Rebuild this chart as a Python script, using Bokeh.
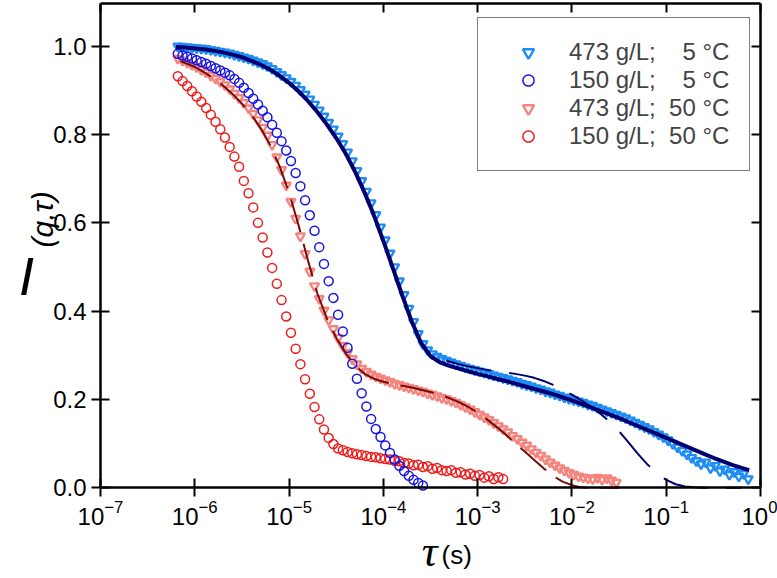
from math import pi
from bokeh.plotting import figure
from bokeh.models import (ColumnDataSource, Range1d, LogAxis, LinearAxis, FixedTicker,
                          PrintfTickFormatter, Label, Legend, LegendItem)
from bokeh.embed import file_html
from bokeh.resources import INLINE

# ---------------- data ----------------
# shared correlator lag grid, log10(tau / s)
log_tau = [
    -6.18, -6.13, -6.08, -6.03, -5.98, -5.93, -5.88, -5.83, -5.78, -5.73,
    -5.68, -5.63, -5.58, -5.53, -5.48, -5.43, -5.38, -5.33, -5.28, -5.23,
    -5.18, -5.13, -5.08, -5.03, -4.98, -4.93, -4.88, -4.83, -4.78, -4.73,
    -4.68, -4.63, -4.58, -4.53, -4.48, -4.43, -4.38, -4.33, -4.28, -4.23,
    -4.18, -4.13, -4.08, -4.03, -3.98, -3.93, -3.88, -3.83, -3.78, -3.73,
    -3.68, -3.63, -3.58, -3.53, -3.48, -3.43, -3.38, -3.33, -3.28, -3.23,
    -3.18, -3.13, -3.08, -3.03, -2.98, -2.93, -2.88, -2.83, -2.78, -2.73,
    -2.68, -2.63, -2.58, -2.53, -2.48, -2.43, -2.38, -2.33, -2.28, -2.23,
    -2.18, -2.13, -2.08, -2.03, -1.98, -1.93, -1.88, -1.83, -1.78, -1.73,
    -1.68, -1.63, -1.58, -1.53, -1.48, -1.43, -1.38, -1.33, -1.28, -1.23,
    -1.18, -1.13, -1.08, -1.03, -0.98, -0.93, -0.88, -0.83, -0.78, -0.73,
    -0.68, -0.63, -0.58, -0.53, -0.48, -0.43, -0.38, -0.33, -0.28, -0.23,
    -0.18, -0.13,
]

# 473 g/L, 5 C  (light blue triangles)
I_473_5C = [
    1.000, 0.999, 0.998, 0.997, 0.996, 0.995, 0.994, 0.992, 0.990, 0.988,
    0.986, 0.984, 0.981, 0.978, 0.975, 0.972, 0.968, 0.964, 0.960, 0.955,
    0.949, 0.942, 0.935, 0.928, 0.920, 0.911, 0.901, 0.891, 0.880, 0.868,
    0.855, 0.841, 0.827, 0.812, 0.796, 0.779, 0.760, 0.740, 0.718, 0.695,
    0.671, 0.645, 0.618, 0.590, 0.561, 0.531, 0.500, 0.468, 0.437, 0.406,
    0.376, 0.349, 0.326, 0.312, 0.303, 0.297, 0.292, 0.288, 0.284, 0.280,
    0.277, 0.273, 0.270, 0.267, 0.264, 0.261, 0.258, 0.255, 0.252, 0.249,
    0.246, 0.243, 0.240, 0.236, 0.233, 0.230, 0.226, 0.223, 0.219, 0.216,
    0.212, 0.209, 0.205, 0.202, 0.199, 0.196, 0.193, 0.189, 0.186, 0.182,
    0.178, 0.174, 0.170, 0.166, 0.162, 0.158, 0.153, 0.148, 0.143, 0.138,
    0.133, 0.127, 0.121, 0.115, 0.108, 0.100, 0.092, 0.084, 0.076, 0.068,
    0.061, 0.054, 0.058, 0.045, 0.050, 0.038, 0.042, 0.030, 0.036, 0.026,
    0.032, 0.020,
]

# 150 g/L, 5 C  (blue circles)
I_150_5C = [
    0.983, 0.979, 0.976, 0.972, 0.968, 0.964, 0.960, 0.955, 0.950, 0.945,
    0.940, 0.934, 0.926, 0.917, 0.906, 0.894, 0.881, 0.868, 0.854, 0.839,
    0.822, 0.804, 0.785, 0.764, 0.740, 0.713, 0.683, 0.651, 0.617, 0.582,
    0.545, 0.507, 0.468, 0.430, 0.392, 0.354, 0.317, 0.281, 0.247, 0.214,
    0.184, 0.156, 0.133, 0.115, 0.096, 0.079, 0.064, 0.050, 0.038, 0.027,
    0.018, 0.011, 0.005,
]

# 473 g/L, 50 C  (salmon triangles)
I_473_50C = [
    0.972, 0.968, 0.963, 0.958, 0.953, 0.947, 0.941, 0.934, 0.927, 0.920,
    0.912, 0.903, 0.893, 0.883, 0.872, 0.860, 0.847, 0.833, 0.816, 0.798,
    0.777, 0.749, 0.720, 0.685, 0.648, 0.610, 0.570, 0.530, 0.490, 0.457,
    0.428, 0.402, 0.380, 0.360, 0.340, 0.322, 0.306, 0.292, 0.280, 0.270,
    0.263, 0.257, 0.252, 0.248, 0.244, 0.240, 0.236, 0.233, 0.230, 0.227,
    0.224, 0.221, 0.218, 0.214, 0.211, 0.208, 0.204, 0.201, 0.197, 0.193,
    0.188, 0.183, 0.178, 0.172, 0.166, 0.160, 0.154, 0.147, 0.140, 0.133,
    0.126, 0.118, 0.111, 0.103, 0.096, 0.088, 0.080, 0.073, 0.065, 0.058,
    0.051, 0.045, 0.039, 0.034, 0.030, 0.026, 0.024, 0.022, 0.020, 0.023,
    0.019, 0.022, 0.017, 0.012,
]

# 150 g/L, 50 C  (red circles)
I_150_50C = [
    0.932, 0.921, 0.910, 0.898, 0.886, 0.874, 0.860, 0.845, 0.829, 0.812,
    0.793, 0.772, 0.750, 0.727, 0.695, 0.667, 0.635, 0.600, 0.567, 0.533,
    0.498, 0.462, 0.425, 0.388, 0.351, 0.315, 0.280, 0.246, 0.213, 0.183,
    0.155, 0.132, 0.113, 0.099, 0.089, 0.085, 0.081, 0.078, 0.076, 0.074,
    0.072, 0.070, 0.069, 0.067, 0.065, 0.064, 0.061, 0.060, 0.056, 0.055,
    0.051, 0.052, 0.047, 0.049, 0.043, 0.045, 0.040, 0.038, 0.040, 0.034,
    0.035, 0.030, 0.032, 0.027, 0.029, 0.023, 0.026, 0.020, 0.024, 0.020,
]

# fit curves, log10(tau / s)
fit_log_tau = [
    -6.2, -6.1, -6.0, -5.9, -5.8, -5.7, -5.6, -5.5, -5.4, -5.3,
    -5.2, -5.1, -5.0, -4.9, -4.8, -4.7, -4.6, -4.5, -4.4, -4.3,
    -4.2, -4.1, -4.0, -3.9, -3.8, -3.7, -3.6, -3.5, -3.4, -3.3,
    -3.2, -3.1, -3.0, -2.9, -2.8, -2.7, -2.6, -2.5, -2.4, -2.3,
    -2.2, -2.1, -2.0, -1.9, -1.8, -1.7, -1.6, -1.5, -1.4, -1.3,
    -1.2, -1.1, -1.0, -0.9, -0.8, -0.7, -0.6, -0.5, -0.4, -0.3,
    -0.2, -0.12,
]
fit_473_5C_solid = [
    0.998, 0.997, 0.995, 0.993, 0.990, 0.986, 0.981, 0.975, 0.967, 0.958,
    0.947, 0.933, 0.917, 0.898, 0.876, 0.851, 0.823, 0.792, 0.757, 0.716,
    0.669, 0.617, 0.559, 0.498, 0.436, 0.377, 0.328, 0.298, 0.284, 0.276,
    0.270, 0.264, 0.258, 0.253, 0.247, 0.242, 0.236, 0.230, 0.224, 0.218,
    0.212, 0.205, 0.198, 0.190, 0.182, 0.174, 0.166, 0.158, 0.149, 0.140,
    0.131, 0.122, 0.113, 0.104, 0.095, 0.086, 0.077, 0.068, 0.060, 0.052,
    0.045, 0.040,
]
fit_473_5C_dashed = [
    0.998, 0.997, 0.995, 0.993, 0.990, 0.986, 0.981, 0.975, 0.967, 0.958,
    0.947, 0.933, 0.917, 0.898, 0.876, 0.851, 0.823, 0.792, 0.757, 0.716,
    0.669, 0.617, 0.559, 0.498, 0.436, 0.377, 0.328, 0.302, 0.293, 0.286,
    0.280, 0.275, 0.271, 0.267, 0.264, 0.261, 0.258, 0.254, 0.249, 0.242,
    0.233, 0.222, 0.211, 0.198, 0.184, 0.168, 0.150, 0.128, 0.103, 0.077,
    0.053, 0.033, 0.018, 0.008, 0.003, 0.001, 0.000, 0.000, 0.000, 0.000,
    0.000,
]
fit50_log_tau = [
    -6.15, -6.1, -6.0, -5.9, -5.8, -5.7, -5.6, -5.5, -5.4, -5.3,
    -5.2, -5.1, -5.0, -4.9, -4.8, -4.7, -4.6, -4.5, -4.4, -4.3,
    -4.2, -4.1, -4.0, -3.9, -3.8, -3.7, -3.6, -3.5, -3.4, -3.3,
    -3.2, -3.1, -3.0, -2.9, -2.8, -2.7, -2.6, -2.5, -2.4, -2.3,
    -2.2, -2.1, -2.0, -1.9, -1.8, -1.7, -1.6, -1.5,
]
fit_473_50C = [
    0.966, 0.962, 0.953, 0.941, 0.927, 0.911, 0.892, 0.870, 0.845, 0.814,
    0.776, 0.728, 0.668, 0.595, 0.515, 0.440, 0.384, 0.340, 0.305, 0.277,
    0.258, 0.247, 0.240, 0.235, 0.231, 0.227, 0.222, 0.217, 0.211, 0.203,
    0.194, 0.183, 0.170, 0.155, 0.138, 0.120, 0.100, 0.082, 0.063, 0.044,
    0.027, 0.014, 0.006, 0.001, 0.000, 0.000, 0.000, 0.000,
]

legend_labels = ["473 g/L;    5 °C", "150 g/L;    5 °C", "473 g/L;  50 °C", "150 g/L;  50 °C"]
x_ticks = [1e-7, 1e-6, 1e-5, 1e-4, 1e-3, 1e-2, 1e-1, 1e0]
y_ticks = [0.0, 0.2, 0.4, 0.6, 0.8, 1.0]
x_lo, x_hi = 1e-7, 1e0          # extent of the axes box (tau)
y_lo, y_hi = 0.0, 1.097         # extent of the axes box (I)


def src(lt, vals):
    n = min(len(lt), len(vals))
    return ColumnDataSource(dict(t=[10.0 ** v for v in lt[:n]], I=list(vals[:n])))


FONT = "Liberation Sans"
C_LB, C_B, C_SAL, C_R = "#1E8CF5", "#1414E6", "#F4847E", "#EE1C1C"
C_NAVY, C_MAROON = "#00006E", "#7A0A0A"

W, H = 777, 578
# the frame fills the whole canvas; the four axes are pinned at the box edges
p = figure(x_axis_type="log",
           x_range=Range1d(10 ** -8.0606, 10 ** 0.1803),
           y_range=Range1d(-0.2054, 1.1035),
           width=W, height=H,
           min_border_left=0, min_border_right=0, min_border_top=0, min_border_bottom=0,
           output_backend="svg", toolbar_location=None,
           background_fill_color="white", border_fill_color="white")
p.xgrid.visible = False
p.ygrid.visible = False
p.outline_line_color = None


def style_axis(ax, tin, tout, labels=True):
    ax.axis_line_color = "black"
    ax.axis_line_width = 2.5
    ax.major_tick_line_color = "black"
    ax.major_tick_line_width = 2
    ax.major_tick_in = tin
    ax.major_tick_out = tout
    ax.minor_tick_line_color = None
    if labels:
        ax.major_label_text_font = FONT
        ax.major_label_text_font_size = "24px"
        ax.major_label_text_color = "black"
    else:
        ax.major_label_text_font_size = "1px"
        ax.major_label_text_alpha = 0.0
        ax.major_label_standoff = 0


xa = p.xaxis[0]
xa.ticker = FixedTicker(ticks=x_ticks)
xa.fixed_location = y_lo
xa.bounds = (x_lo, x_hi)
style_axis(xa, 9, 9)
xa.major_label_standoff = 3

ya = p.yaxis[0]
ya.ticker = FixedTicker(ticks=y_ticks)
ya.formatter = PrintfTickFormatter(format="%.1f")
ya.fixed_location = x_lo
ya.bounds = (y_lo, y_hi)
style_axis(ya, 9, 9)
ya.major_label_standoff = 5

top = LogAxis(ticker=FixedTicker(ticks=x_ticks), fixed_location=y_hi, bounds=(x_lo, x_hi))
style_axis(top, 9, 0, labels=False)
p.add_layout(top, "above")
right = LinearAxis(ticker=FixedTicker(ticks=y_ticks), fixed_location=x_hi, bounds=(y_lo, y_hi))
style_axis(right, 9, 0, labels=False)
p.add_layout(right, "right")

# data markers
r_lb = p.scatter("t", "I", source=src(log_tau, I_473_5C), marker="inverted_triangle",
                 size=9, fill_color=None, line_color=C_LB, line_width=2.4)
r_sal = p.scatter("t", "I", source=src(log_tau, I_473_50C), marker="inverted_triangle",
                  size=9, fill_color=None, line_color=C_SAL, line_width=2.4)
r_red = p.scatter("t", "I", source=src(log_tau, I_150_50C), marker="circle",
                  size=9, fill_color=None, line_color=C_R, line_width=1.5)
r_blue = p.scatter("t", "I", source=src(log_tau, I_150_5C), marker="circle",
                   size=9, fill_color=None, line_color=C_B, line_width=1.5)

# fits
p.line("t", "I", source=src(fit_log_tau, fit_473_5C_solid), line_color=C_NAVY, line_width=4)
p.line("t", "I", source=src(fit_log_tau, fit_473_5C_dashed), line_color=C_NAVY, line_width=2,
       line_dash="46 18")
p.line("t", "I", source=src(fit50_log_tau, fit_473_50C), line_color=C_MAROON, line_width=2,
       line_dash="34 12")

legend = Legend(items=[LegendItem(label=legend_labels[0], renderers=[r_lb]),
                       LegendItem(label=legend_labels[1], renderers=[r_blue]),
                       LegendItem(label=legend_labels[2], renderers=[r_sal]),
                       LegendItem(label=legend_labels[3], renderers=[r_red])],
                location=(477, 407), margin=0, padding=20, spacing=0,
                glyph_width=60, glyph_height=28, label_height=28, label_standoff=11,
                label_text_font=FONT, label_text_font_size="24px",
                border_line_color="black", border_line_width=1.5,
                background_fill_color="white", background_fill_alpha=1.0)
p.add_layout(legend)

# axis titles (screen units from the canvas' bottom-left corner)
p.add_layout(Label(x=26, y=303, x_units="screen", y_units="screen", text="I",
                   text_font=FONT, text_font_style="italic", text_font_size="54px",
                   text_align="center", text_baseline="middle", text_color="black"))
p.add_layout(Label(x=42, y=331, x_units="screen", y_units="screen", text="(q,τ)",
                   angle=pi / 2, text_font=FONT, text_font_style="italic",
                   text_font_size="30px", text_align="left", text_baseline="middle",
                   text_color="black"))
p.add_layout(Label(x=437, y=27, x_units="screen", y_units="screen", text="τ",
                   text_font="Liberation Serif", text_font_style="italic",
                   text_font_size="44px", text_align="right", text_baseline="alphabetic",
                   text_color="black"))
p.add_layout(Label(x=441, y=24, x_units="screen", y_units="screen", text="(s)",
                   text_font=FONT, text_font_size="26px", text_align="left",
                   text_baseline="alphabetic", text_color="black"))

open("out.html", "w").write(file_html(p, INLINE))
